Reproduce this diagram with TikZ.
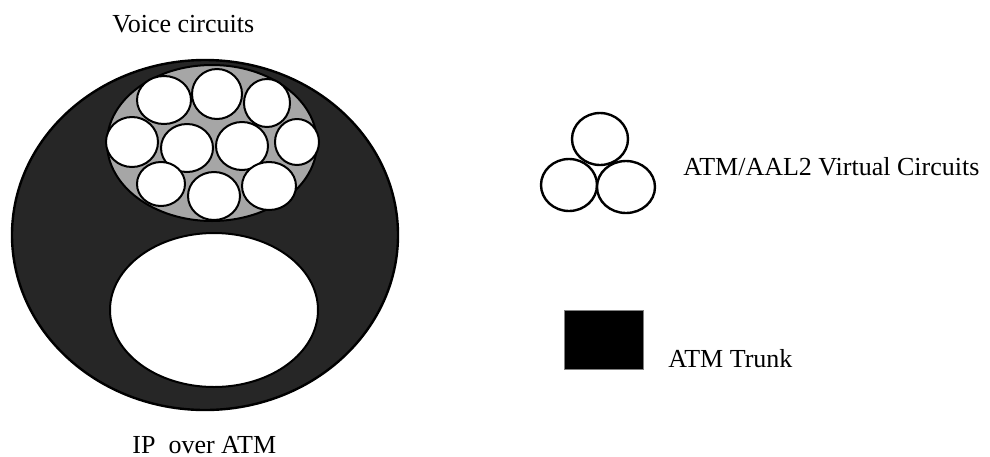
\documentclass[tikz,border=0pt]{standalone}
\usepackage{fontspec}
\setmainfont{Liberation Serif}
\definecolor{trunkgray}{HTML}{262626}
\definecolor{voicegray}{HTML}{A6A6A6}
\tikzset{vc/.style={draw, fill=white, line width=1pt}}
\begin{document}
\begin{tikzpicture}[x=0.5pt, y=-0.5pt, font=\fontsize{13}{15}\selectfont]
  \useasboundingbox (0,0) rectangle (990,456);
  % Trunk
  \draw[fill=trunkgray, line width=1.2pt] (205,235) ellipse [x radius=193, y radius=175];
  \draw[fill=voicegray, line width=1pt] (212,143) ellipse [x radius=105, y radius=78];
  \draw[fill=white, line width=1pt] (214,310) ellipse [x radius=104, y radius=77];
  % Voice circuits
  \foreach \cx/\cy/\rx/\ry in {164/100/27/24, 217/94/25/25, 267/103/23/24,
      132/142/26/25, 187/148/26/24, 242/146/26/24, 297/142/22/23,
      161/184/24/22, 214/196/26/24, 269/186/27/24}
    \draw[vc] (\cx,\cy) ellipse [x radius=\rx, y radius=\ry];
  % Legend
  \draw[vc, line width=1.2pt] (600,139) ellipse [x radius=28, y radius=26];
  \draw[vc, line width=1.2pt] (569,185) ellipse [x radius=28, y radius=26];
  \draw[vc, line width=1.2pt] (626,187) ellipse [x radius=29, y radius=26];
  \draw[fill=black, draw=gray, line width=0.4pt] (564,310) rectangle (643,369);
  % Labels
  \node[anchor=base west, inner sep=0pt] (voice) at (112,32) {Voice circuits};
  \node[anchor=base west, inner sep=0pt] (ipatm) at (132,453) {IP~~over ATM};
  \node[anchor=base west, inner sep=0pt] (vclabel) at (683,175) {ATM/AAL2 Virtual Circuits};
  \node[anchor=base west, inner sep=0pt] (trunk) at (668,367) {ATM Trunk};
\end{tikzpicture}
\end{document}
